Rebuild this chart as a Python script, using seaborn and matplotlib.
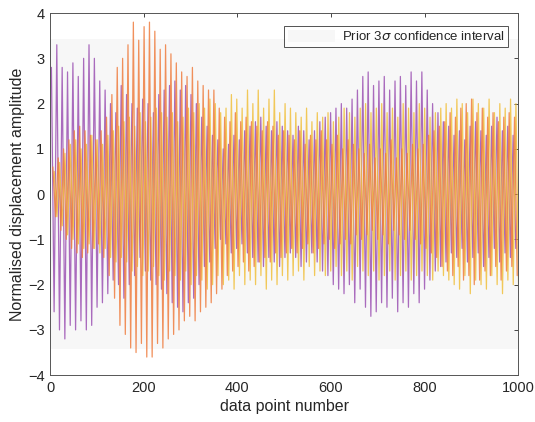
import numpy as np
import pandas as pd
import matplotlib
matplotlib.use("Agg")
import matplotlib.pyplot as plt
import seaborn as sns

# Values: successive maxima / minima of each trace
purple_peaks = [2.8, 3.3, 2.8, 2.7, 2.9, 2.6, 3.0, 3.3, 3.0,
                2.5, 2.3, 2.0, 1.8,
                2.4, 2.2, 2.0, 1.9, 2.1, 2.0, 1.8, 2.2, 2.3,
                2.4, 2.5, 2.3, 2.4, 2.2, 2.0, 1.7, 1.5,
                1.3, 1.2, 1.0, 1.1, 1.3, 1.2, 1.4,
                1.5, 1.6, 1.7, 1.5, 1.4, 1.6, 1.5,
                1.4, 1.3, 1.5, 1.4, 1.2, 1.4, 1.6,
                1.7, 1.8, 1.9, 2.0, 1.9, 2.1, 2.3,
                2.6, 2.7, 2.4, 2.5, 2.6, 2.3, 2.5, 2.6, 2.4, 2.7, 2.5,
                2.7, 2.3, 2.0, 1.8,
                1.6, 1.5, 1.3, 1.4, 1.2, 1.5, 1.6, 1.4, 1.3, 1.5, 1.7, 1.4, 1.5, 1.3]
purple_troughs = [-2.6, -3.0, -3.2, -2.9, -3.0, -2.8, -3.0, -2.9, -2.5,
                  -2.4, -2.2, -1.9, -2.0,
                  -2.3, -2.0, -1.8, -1.4, -1.7, -1.9, -2.0, -2.1, -2.2,
                  -2.4, -2.5, -2.6, -2.4, -2.3, -2.0, -1.6, -1.5,
                  -1.2, -1.0, -1.1, -1.3, -1.2, -1.1, -1.3,
                  -1.4, -1.5, -1.6, -1.4, -1.5, -1.6, -1.4,
                  -1.3, -1.4, -1.6, -1.5, -1.3, -1.5, -1.7,
                  -1.8, -2.0, -2.1, -2.2, -2.0, -2.4, -2.1,
                  -2.5, -2.7, -2.6, -2.4, -2.5, -2.3, -2.6, -2.4, -2.5, -2.2, -2.4,
                  -2.1, -1.9, -1.7, -1.6,
                  -1.5, -1.3, -1.4, -1.2, -1.5, -1.4, -1.3, -1.6, -1.4, -1.2, -1.5, -1.3, -1.4, -1.2]

orange_peaks = [0.6, 0.8, 1.0, 1.2, 1.4, 1.5, 1.4, 1.3, 1.2,
                1.4, 1.7, 2.2, 2.8,
                3.0, 3.3, 3.8, 3.4, 3.7, 3.8, 3.6, 3.2, 3.3,
                3.1, 2.9, 2.7, 2.6, 2.8, 2.5, 2.4, 2.3,
                2.3, 1.9, 1.7, 1.6, 1.8, 1.6, 1.7,
                1.6, 1.5, 1.4, 1.6, 1.5, 1.3, 1.4,
                1.3, 1.2, 1.4, 1.1, 1.3, 1.2, 1.4,
                1.2, 1.1, 1.3, 1.0, 1.2, 1.1, 1.0,
                0.9, 1.1, 0.8, 1.0, 0.9, 1.2, 0.8, 1.0, 0.9, 1.1, 1.0,
                1.1, 1.3, 1.4, 1.5,
                1.6, 1.8, 1.7, 1.9, 2.0, 2.1, 1.8, 1.9, 1.7, 1.8, 1.6, 1.7, 1.8, 1.7]
orange_troughs = [-0.5, -0.8, -1.0, -1.2, -1.3, -1.4, -1.3, -1.2, -1.1,
                  -1.4, -1.8, -2.3, -2.9,
                  -3.1, -3.4, -3.5, -3.3, -3.6, -3.6, -3.3, -3.4, -3.2,
                  -3.1, -3.0, -2.8, -2.7, -2.8, -2.6, -2.5, -2.4,
                  -2.2, -2.1, -1.8, -1.7, -1.6, -1.5, -1.7,
                  -1.6, -1.5, -1.4, -1.5, -1.3, -1.4, -1.3,
                  -1.2, -1.3, -1.2, -1.1, -1.3, -1.2, -1.1,
                  -1.0, -1.2, -1.1, -1.0, -1.1, -0.9, -1.0,
                  -0.9, -0.8, -1.0, -0.9, -1.1, -0.8, -0.9, -1.0, -0.8, -1.0, -1.1,
                  -1.2, -1.3, -1.4, -1.6,
                  -1.7, -1.8, -1.6, -1.9, -1.8, -2.0, -1.9, -1.7, -1.8, -1.6, -1.9, -1.7, -1.6, -1.8]

yellow_peaks = [0.5, 0.7, 0.9, 1.1, 1.2, 1.0, 1.1, 1.3, 1.2,
                1.1, 1.3, 1.4, 1.5,
                1.6, 1.7, 1.5, 1.8, 1.6, 1.7, 1.9, 1.8, 1.7,
                1.8, 1.6, 1.7, 1.9, 1.8, 2.0, 1.9, 2.1,
                2.0, 1.8, 1.9, 2.2, 2.1, 1.9, 2.3,
                2.0, 2.3, 1.9, 2.1, 2.3, 1.8, 2.0,
                1.9, 1.8, 1.7, 1.9, 1.6, 1.8, 1.7,
                1.8, 1.6, 1.7, 1.9, 1.8, 1.7, 1.9,
                2.0, 1.8, 1.9, 2.0, 1.8, 1.9, 1.7, 2.0, 1.9, 1.8, 2.0,
                1.9, 1.7, 1.8, 1.9,
                2.0, 1.9, 2.1, 2.0, 1.8, 2.1, 2.0, 1.9, 2.1, 1.8, 2.0, 1.9, 2.1, 2.0]
yellow_troughs = [-0.5, -0.7, -0.9, -1.0, -1.1, -1.2, -1.1, -1.2, -1.3,
                  -1.2, -1.4, -1.5, -1.4,
                  -1.5, -1.7, -1.6, -1.8, -1.7, -1.6, -1.8, -1.9, -1.7,
                  -1.8, -1.9, -1.7, -2.0, -1.8, -1.9, -2.1, -2.0,
                  -1.8, -2.0, -1.9, -2.1, -1.8, -2.0, -1.9,
                  -2.0, -1.8, -2.1, -1.9, -2.0, -1.8, -1.9,
                  -1.8, -1.7, -1.9, -1.6, -1.8, -1.7, -1.8,
                  -1.7, -1.6, -1.8, -1.7, -1.9, -1.6, -1.7,
                  -1.8, -1.7, -1.9, -1.8, -1.7, -1.9, -1.8, -1.7, -1.9, -1.8, -1.7,
                  -1.8, -1.9, -1.7, -1.8,
                  -1.9, -2.0, -2.1, -1.8, -2.2, -1.9, -2.0, -2.1, -1.8, -2.0, -2.2, -1.9, -2.0, -2.1]

# first extremum position of each trace (data point number)
series_start = {"purple": 3, "orange": 6, "yellow": 9}
sigma3 = 3.43
n_points = 1000

colors = {"purple": "#9c52b3", "orange": "#ef7d3f", "yellow": "#f1c03c"}


def build_frame():
    rows = []
    for name, pk, tr in [("purple", purple_peaks, purple_troughs),
                         ("yellow", yellow_peaks, yellow_troughs),
                         ("orange", orange_peaks, orange_troughs)]:
        vals = np.column_stack((pk, tr)).ravel()
        xs = np.linspace(series_start[name], n_points + series_start[name] - 8, len(vals))
        rows.append(pd.DataFrame({"x": xs, "y": vals, "trace": name}))
    return pd.concat(rows, ignore_index=True)


def main():
    df = build_frame()

    sns.set_style("white")
    plt.rcParams["font.family"] = ["Liberation Sans", "DejaVu Sans"]
    plt.rcParams["mathtext.fontset"] = "dejavusans"

    fig = plt.figure(figsize=(5.35, 4.22), dpi=100)
    ax = fig.add_axes([0.0935, 0.111, 0.875, 0.858])

    band = ax.fill_between([0, n_points], [-sigma3, -sigma3], [sigma3, sigma3],
                           color="#f7f7f7", lw=0, zorder=0,
                           label=r"Prior 3$\sigma$ confidence interval")

    sns.lineplot(data=df, x="x", y="y", hue="trace", palette=colors,
                 estimator=None, sort=False, lw=0.9, alpha=0.85,
                 ax=ax, legend=False)

    ax.set_xlim(0, 1000)
    ax.set_ylim(-4, 4)
    ax.set_xticks(np.arange(0, 1001, 200))
    ax.set_yticks(np.arange(-4, 5, 1))
    ax.tick_params(direction="in", length=3, width=0.6, colors="#262626",
                   labelsize=10.5, top=True, right=True, pad=4)
    for s in ax.spines.values():
        s.set_color("#555555")
        s.set_linewidth(0.7)

    ax.set_xlabel("data point number", fontsize=11.5, color="#262626", labelpad=3)
    ax.set_ylabel("Normalised displacement amplitude", fontsize=11.5, color="#262626", labelpad=2)

    leg = ax.legend(handles=[band], loc="upper right", bbox_to_anchor=(0.979, 0.964),
                    fontsize=9.5, frameon=True, fancybox=False, handlelength=3.6,
                    handleheight=1.0, borderaxespad=0.0, borderpad=0.3,
                    handletextpad=0.5)
    leg.get_frame().set_edgecolor("#262626")
    leg.get_frame().set_linewidth(0.7)

    fig.savefig("out.png", dpi=100)
    plt.close(fig)


if __name__ == "__main__":
    main()
